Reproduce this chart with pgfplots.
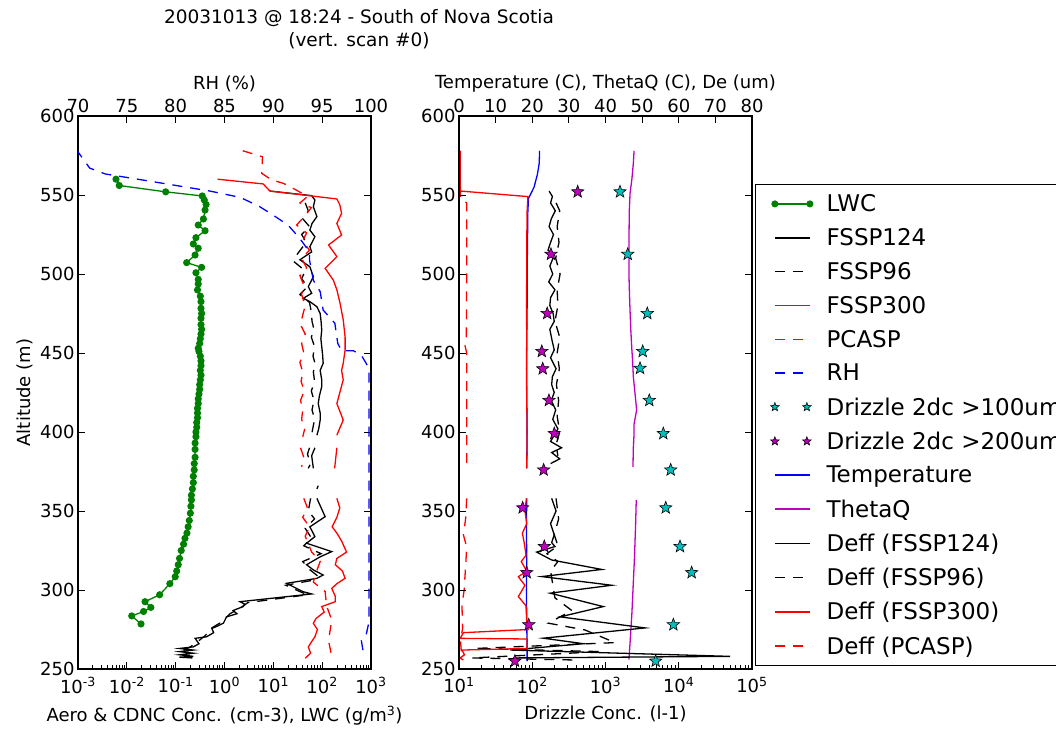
\documentclass[border=0pt]{standalone}
\usepackage{fontspec}
\setmainfont{DejaVu Sans}
\usepackage{pgfplots}
\pgfplotsset{compat=1.18}
\usetikzlibrary{plotmarks}

\definecolor{mgreen}{rgb}{0,0.5,0}
\definecolor{mcyan}{rgb}{0,0.75,0.75}
\definecolor{mmag}{rgb}{0.75,0,0.75}

\pgfdeclareplotmark{fstar}{%
  \pgfpathmoveto{\pgfpointpolar{90}{\pgfplotmarksize}}%
  \pgfpathlineto{\pgfpointpolar{126}{0.42*\pgfplotmarksize}}%
  \pgfpathlineto{\pgfpointpolar{162}{\pgfplotmarksize}}%
  \pgfpathlineto{\pgfpointpolar{198}{0.42*\pgfplotmarksize}}%
  \pgfpathlineto{\pgfpointpolar{234}{\pgfplotmarksize}}%
  \pgfpathlineto{\pgfpointpolar{270}{0.42*\pgfplotmarksize}}%
  \pgfpathlineto{\pgfpointpolar{306}{\pgfplotmarksize}}%
  \pgfpathlineto{\pgfpointpolar{342}{0.42*\pgfplotmarksize}}%
  \pgfpathlineto{\pgfpointpolar{18}{\pgfplotmarksize}}%
  \pgfpathlineto{\pgfpointpolar{54}{0.42*\pgfplotmarksize}}%
  \pgfpathclose
  \pgfusepathqfillstroke}

\newcommand{\tf}{\fontsize{18}{21.6}\selectfont}
\newcommand{\lf}{\fontsize{23}{27}\selectfont}

\pgfplotsset{
  base/.style={scale only axis, width=293pt, height=553pt, anchor=south west,
    ymin=250, ymax=600, ytick={250,300,...,600},
    tick align=inside, major tick length=7pt, minor tick length=4pt,
    major tick style={black, line width=0.8pt}, minor tick style={black, line width=0.6pt},
    axis line style={black, line width=1.1pt},
    tick label style={font=\tf}, label style={font=\tf},
    /pgf/number format/assume math mode=true,
    unbounded coords=jump},
  bottomaxis/.style={xtick pos=left,
    x tick label style={yshift=-5pt}, xlabel style={yshift=-6pt}},
  dl/.style={line width=1.3pt},
  dsh/.style={line width=1.3pt, dash pattern=on 10pt off 8pt},
  ldl/.style={line width=1.6pt},
  ldsh/.style={line width=1.6pt, dash pattern=on 10pt off 8pt},
  starlegend/.style={legend image code/.code={\draw[##1] plot[only marks] coordinates {(0pt,0pt) (32pt,0pt)};}},
}

\begin{document}
\begin{tikzpicture}[x=1pt,y=1pt]
\useasboundingbox (0,0) rectangle (1056,728);
\node[align=center, font=\fontsize{18.5}{23}\selectfont] at (359pt,698.5pt) {20031013 @ 18:24 - South of Nova Scotia\\(vert. scan \#0)};

% ---------------- left panel, bottom log axis
\begin{axis}[base, bottomaxis, at={(78pt,59pt)}, xmode=log, xmin=1e-3, xmax=1e3,
  xtick={1e-3,1e-2,1e-1,1,10,100,1000},
  minor xtick={0.002,0.003,0.004,0.005,0.006,0.007,0.008,0.009,0.02,0.03,0.04,0.05,0.06,0.07,0.08,0.09,0.2,0.3,0.4,0.5,0.6,0.7,0.8,0.9,2,3,4,5,6,7,8,9,20,30,40,50,60,70,80,90,200,300,400,500,600,700,800,900},
  xticklabels={10\textsuperscript{-3},10\textsuperscript{-2},10\textsuperscript{-1},10\textsuperscript{0},10\textsuperscript{1},10\textsuperscript{2},10\textsuperscript{3}},
  xlabel={Aero \& CDNC Conc. (cm-3), LWC (g/m\textsuperscript{3})}, ylabel={Altitude (m)}]
\addplot[mgreen, line width=1.3pt, mark=*, mark size=2.9pt] coordinates {
(0.0060,560)(0.0070,556)(0.0625,552)(0.35,549.4)(0.386,546.8)(0.42,544)(0.40,540.5)(0.37,534.8)(0.29,531)(0.40,527.4)(0.26,523)(0.23,519)(0.29,516.3)(0.25,512)(0.168,507.2)(0.34,504.2)(0.26,500.8)(0.29,496.6)(0.29,493.7)(0.28,489.9)(0.32,486)(0.33,482.5)(0.33,478.3)(0.34,475)(0.33,472)(0.33,468)(0.34,465)(0.33,462)(0.32,459)(0.31,456)(0.29,453)(0.30,451)(0.32,448)(0.33,445)(0.33,442)(0.32,439)(0.33,436)(0.32,433)(0.31,430)(0.31,427)(0.30,424)(0.29,421)(0.29,418)(0.28,415)(0.28,412)(0.28,409)(0.27,406)(0.27,403)(0.26,400)(0.26,397)(0.25,393)(0.25,389)(0.25,384)(0.24,380)(0.24,376)(0.23,372)(0.23,368)(0.22,364)(0.21,360)(0.21,357)(0.205,353)(0.20,348.6)(0.19,344)(0.18,340)(0.17,336)(0.155,332.7)(0.145,329)(0.13,325)(0.12,320)(0.113,316)(0.105,312)(0.098,308.4)(0.076,304)(0.047,297)(0.0236,292.6)(0.031,289)(0.022,286.4)(0.0126,283.6)(0.0195,278.5)};
% FSSP124
\addplot[black, dl] coordinates {
(8.5,552.5)(61,549.6)(71,546.8)(66,542.6)(78,536.3)(62,532)(56,527.8)(71,523.6)(56,517.3)(61,514)(35,509)(56,504.6)(66,498.3)(52,492)(61,487.8)(41,484.6)(56,482.5)(78,479.3)(91,475)(95,470)(98,464.6)(94,459)(98,454)(102,449)(105,443.5)(91,439)(98,433)(98,428.7)(88,423)(83,418)(91,412)(91,407.6)(85,402)(78,398)(nan,394)(71,390)(61,385)(66,377)(nan,372)(83,366)(78,364)(nan,361)(78,358)(115,346.4)(56,340)(71,333.8)(48,329.6)(157,324.3)(91,321)(48,316)(66,312.7)(105,309.5)(78,307.4)(18.6,304.2)(41,298.9)(61,297.5)(2.08,292.6)(2.6,291)(2.4,289.5)(1.5,287)(1.8,285)(1.1,283)(0.95,279)(0.7,277)(0.55,275.7)(0.6,273)(0.43,270.4)(0.25,269.4)(0.3,266)(0.23,264)(0.12,263)(0.23,262)(0.12,261)(0.23,260)(0.12,259)(0.23,258)(0.12,257.5)(0.22,257)};
% FSSP96
\addplot[black, dsh] coordinates {
(45,545)(52,540)(40,535)(55,530)(38,525)(47,520)(30,512)(26,508)(45,502)(38,497)(50,492)(35,487)(55,482)(60,476)(62,470)(68,465)(60,460)(70,454)(65,448)(72,443)(66,438)(70,432)(60,426)(68,420)(62,414)(70,408)(64,402)(60,397)(nan,394)(55,390)(50,386)(58,380)(52,377)(nan,372)(60,366)(nan,362)(58,358)(52,350)(70,345)(45,339)(60,333)(42,328)(95,323)(40,318)(55,313)(80,309)(60,306)(18,303)(35,299)(50,297)(3,292)(2.2,289)(1.3,285)(0.9,280)(0.55,276)(0.4,271)(0.3,268)(0.2,264)(0.15,262)(0.2,259)(0.15,258)};
% FSSP300
\addplot[red, dl] coordinates {
(0.72,560)(6.2,557)(8.5,552.5)(200,547.5)(230,543.7)(250,538.4)(200,532)(250,524.7)(135,518.4)(200,511)(115,503.6)(170,496)(200,490)(232,481.5)(270,471)(295,460)(295,452)(270,443.5)(250,439)(270,433)(230,425)(200,418)(270,407.6)(200,398)(nan,394)(200,390)(180,377)(nan,372)(230,366)(nan,362)(200,358)(230,352)(200,346)(160,340)(200,336)(250,331)(316,324)(200,320)(186,316)(260,312)(295,307.4)(200,304)(157,301)(186,296)(186,292.6)(98,289.5)(110,286)(75,282)(66,278.9)(80,275)(71,270.4)(60,267)(52,264)(58,260)(45,256.8)};
% PCASP
\addplot[red, dsh] coordinates {
(2.36,578)(6.0,574.2)(5.8,563.7)(9.3,559.5)(16,557.4)(30,553)(50,549)(35,545)(60,542)(45,537)(30,531)(48,526)(40,521)(55,515)(38,510)(48,504)(35,499)(42,493)(38,487)(45,480)(40,474)(36,468)(45,462)(38,456)(42,450)(35,444)(40,438)(37,432)(43,426)(36,420)(40,414)(38,408)(44,402)(40,397)(nan,394)(36,390)(42,384)(38,378)(nan,372)(40,366)(nan,362)(42,358)(50,352)(40,346)(55,340)(45,334)(61,324)(91,318)(71,309)(66,305)(115,299)(123,290)(157,281)(135,268)(157,258)};
\end{axis}

% ---------------- left panel, top RH axis
\begin{axis}[base, at={(78pt,59pt)}, xmin=70, xmax=100, xtick={70,75,...,100},
  axis x line*=top, hide y axis, xlabel={RH (\%)}]
\addplot[blue, dsh] coordinates {
(69.8,579)(70.5,573)(71.2,567)(72.8,563.3)(77.7,558.4)(83.5,552.5)(86.6,548.5)(88.5,543)(89.7,538.4)(91.5,531)(92.7,522.6)(93.7,514)(93.7,509)(94.1,496)(94.8,488.8)(95.1,477.2)(96.3,468.8)(96.6,456)(97.0,451.4)(98.2,451.4)(99.0,448.7)(99.5,443.5)(99.8,440)(99.8,400)(99.8,350)(99.8,300)(99.8,280)(99.5,271.5)(99.0,268.4)(99.2,261)(98.9,258.9)};
\end{axis}

% ---------------- right panel, top linear axis
\begin{axis}[base, at={(459pt,59pt)}, xmin=0, xmax=80, xtick={0,10,...,80},
  axis x line*=top, hide y axis, xlabel={Temperature (C), ThetaQ (C), De (um)}]
% Temperature
\addplot[blue, dl] coordinates {
(22.0,578)(21.9,570)(21.4,563)(20.5,555)(19.0,548)(18.8,540)(18.7,520)(18.6,500)(18.6,480)(18.5,460)(18.5,440)(18.5,420)(18.6,400)(18.5,380)(18.5,377)(nan,370)(18.5,358)(18.4,340)(18.5,320)(18.4,300)(18.5,280)(18.6,260)(18.6,255)};
% ThetaQ
\addplot[mmag, dl] coordinates {
(47.8,578)(47.6,570)(47.2,560)(46.7,551)(46.5,540)(46.4,520)(46.4,500)(46.6,483)(46.9,465)(47.2,452)(47.4,445)(47.6,435)(48.5,414)(47.8,405)(47.8,399)(47.6,390)(47.5,378)(nan,370)(48.4,357)(48.2,340)(47.9,320)(47.5,300)(47.2,285)(46.8,270)(46.4,256)};
% Deff FSSP124
\addplot[black, dl] coordinates {
(24.6,552.5)(25.5,549)(25.0,545)(26.3,540)(25.2,535)(24.6,530)(25.8,525)(25.0,520)(24.3,515)(26.0,512)(24.8,505)(25.6,500)(24.5,495)(26.2,490)(25.0,485)(24.8,480)(25.7,475)(26.0,470)(24.8,465)(25.4,458)(26.0,452)(25.0,447)(26.5,440)(25.5,435)(25.3,430)(26.0,425)(25.2,420)(26.4,414)(25.6,408)(27.0,402)(26.0,398)(25.0,394)(28.0,390)(25.3,387)(27.5,383)(25.0,380)(nan,370)(25.3,358)(26.5,350)(25.0,342)(26.0,335)(25.3,330)(26.2,327.5)(21.2,324)(25.3,319)(39.0,313)(22.6,308.5)(41.7,303)(24.9,298)(39.4,289.5)(27.6,283)(50.8,276)(23.0,269.5)(34.0,266)(14.0,262)(74.0,258)(14.8,257)};
% Deff FSSP96
\addplot[black, dsh] coordinates {
(26.5,545)(27.5,540)(26.8,530)(27.3,520)(26.4,510)(27.6,500)(26.8,490)(27.0,480)(26.2,470)(27.5,460)(26.8,450)(27.4,440)(26.6,430)(27.2,420)(26.8,410)(27.5,400)(26.5,392)(27.0,385)(nan,370)(26.5,358)(27.2,345)(26.0,335)(27.0,328)(24.0,323)(27.0,318)(25.0,312)(26.2,295)(30.8,287)(24.4,279)(34.4,274.7)(42.6,266.7)(4.4,263)(39,261)(3.5,257)(31.7,255.7)};
% Deff FSSP300
\addplot[red, dl] coordinates {
(0.3,578)(0.3,560)(0.4,552.5)(18.8,549)(18.6,540)(18.5,520)(18.5,500)(18.4,480)(18.5,460)(18.4,440)(18.5,420)(18.6,400)(18.5,377)(nan,370)(18.4,358)(18.0,350)(18.5,342)(17.3,336)(17.8,330)(18.3,322)(17.0,318)(18.5,312)(16.2,308.4)(18.0,303)(16.2,295.8)(18.3,290)(18.5,279)(18.9,275)(1.2,273)(0.3,269.4)(18.6,269)(18.6,263)(0.8,262)(1.5,259)(0.3,257)(1.2,255.7)};
% Deff PCASP
\addplot[red, dsh] coordinates {
(0.3,578)(0.3,548)(2.1,545)(2.1,500)(2.0,460)(1.6,455)(2.1,450)(2.1,420)(2.1,377)(nan,370)(2.1,358)(1.8,345)(1.2,335)(2.1,327)(1.8,315)(1.4,300)(0.8,290)(1.0,276)(0.4,268)(0.8,256)};
\end{axis}

% ---------------- right panel, bottom log axis with stars and legend
\begin{axis}[base, bottomaxis, at={(459pt,59pt)}, xmode=log, xmin=10, xmax=1e5,
  xtick={10,100,1000,10000,100000},
  minor xtick={20,30,40,50,60,70,80,90,200,300,400,500,600,700,800,900,2000,3000,4000,5000,6000,7000,8000,9000,20000,30000,40000,50000,60000,70000,80000,90000},
  xticklabels={10\textsuperscript{1},10\textsuperscript{2},10\textsuperscript{3},10\textsuperscript{4},10\textsuperscript{5}},
  xlabel={Drizzle Conc. (l-1)},
  legend image code/.code={\draw[#1] plot coordinates {(0pt,0pt) (35pt,0pt)};},
  legend style={at={(1.0102,0.877)}, anchor=north west, font=\lf, draw=black, line width=1.2pt,
    fill=white, inner xsep=15pt, inner ysep=10pt, row sep=15.3pt, column sep=14pt,
    nodes={inner sep=0pt}, cells={anchor=west}},
  legend cell align=left]
\addlegendimage{mgreen, ldl, mark=*, mark size=2.7pt}
\addlegendimage{black, ldl}
\addlegendimage{black, ldsh}
\addlegendimage{red, ldl}
\addlegendimage{red, ldsh}
\addlegendimage{blue, ldsh}
\addlegendimage{mark=fstar, mark size=4.5pt, draw=black, fill=mcyan, line width=0.6pt, starlegend}
\addlegendimage{mark=fstar, mark size=4.5pt, draw=black, fill=mmag, line width=0.6pt, starlegend}
\addlegendimage{blue, ldl}
\addlegendimage{mmag, ldl}
\addlegendimage{black, ldl}
\addlegendimage{black, ldsh}
\addlegendimage{red, ldl}
\addlegendimage{red, ldsh}
\addplot[only marks, mark=fstar, mark size=6.5pt, mark options={draw=black, fill=mcyan, line width=0.6pt}, forget plot] coordinates {
(1578,552)(2010,512.5)(3720,475)(3220,451)(2960,440.3)(3960,420)(6150,399)(7760,376)(6640,352)(10400,327.5)(15000,311)(8440,278)(4840,255)};
\addplot[only marks, mark=fstar, mark size=6.5pt, mark options={draw=black, fill=mmag, line width=0.6pt}, forget plot] coordinates {
(417,552)(180,512.5)(160,475)(135,451)(139,440)(169,420)(200,399)(143,376)(74,352)(146,327.5)(84,311)(89.6,278)(58,255)};
\legend{LWC, FSSP124, FSSP96, FSSP300, PCASP, RH, Drizzle 2dc >100um, Drizzle 2dc >200um, Temperature, ThetaQ, Deff (FSSP124), Deff (FSSP96), Deff (FSSP300), Deff (PCASP)}
\end{axis}
\end{tikzpicture}
\end{document}
